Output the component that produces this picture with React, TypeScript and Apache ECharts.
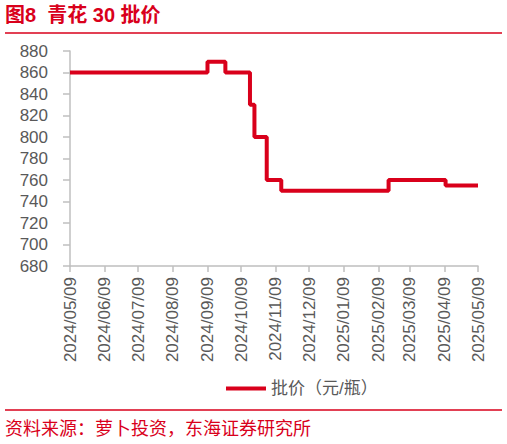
import { useEffect, useRef } from 'react';
import * as echarts from 'echarts';

// change points of the wholesale price (step line)
const changeDates = [
  '2024/05/09', '2024/09/09', '2024/09/25', '2024/10/17', '2024/10/21',
  '2024/11/01', '2024/11/14', '2025/02/18', '2025/04/10', '2025/05/09',
];
const prices = [860, 870, 860, 830, 800, 760, 750, 760, 755, 755];

const seriesName = '批价（元/瓶）';
const startDate = '2024/05/09';
const endDate = '2025/05/09';

const red = '#D9001B';
const grey = '#595959';
const font = '"Liberation Sans", Arial, "Noto Sans CJK SC", sans-serif';

// daily categories for the x axis
function dayList(from: string, to: string) {
  const out: string[] = [];
  const [fy, fm, fd] = from.split('/').map(Number);
  const [ty, tm, td] = to.split('/').map(Number);
  const d = new Date(Date.UTC(fy, fm - 1, fd));
  const end = Date.UTC(ty, tm - 1, td);
  while (d.getTime() <= end) {
    const m = String(d.getUTCMonth() + 1).padStart(2, '0');
    const day = String(d.getUTCDate()).padStart(2, '0');
    out.push(`${d.getUTCFullYear()}/${m}/${day}`);
    d.setUTCDate(d.getUTCDate() + 1);
  }
  return out;
}

function App() {
  const chartRef = useRef<HTMLDivElement>(null);

  useEffect(() => {
    document.body.style.margin = '0';
    if (!chartRef.current) return;
    const days = dayList(startDate, endDate);
    const onNinth = (_i: number, v: string) => v.endsWith('/09');

    const option: echarts.EChartsOption = {
      animation: false,
      textStyle: { fontFamily: font },
      grid: { left: 70, right: 29, top: 51, bottom: 178, containLabel: false },
      legend: {
        left: 221,
        top: 375,
        icon: 'rect',
        itemWidth: 40,
        itemHeight: 4,
        itemGap: 10,
        textStyle: { color: grey, fontSize: 17, fontFamily: font },
        data: [seriesName],
      },
      xAxis: {
        type: 'category',
        data: days,
        boundaryGap: false,
        axisLine: { lineStyle: { color: '#BFBFBF', width: 1.5 } },
        axisTick: { interval: onNinth, length: 6, lineStyle: { color: '#BFBFBF', width: 1.5 } },
        axisLabel: {
          interval: onNinth,
          rotate: 90,
          margin: 11,
          color: grey,
          fontSize: 17,
          fontFamily: font,
        },
        splitLine: { show: false },
      },
      yAxis: {
        type: 'value',
        min: 680,
        max: 880,
        interval: 20,
        axisLine: { show: true, lineStyle: { color: '#BFBFBF', width: 1.5 } },
        axisTick: { show: true, length: 7, lineStyle: { color: '#BFBFBF', width: 1.5 } },
        axisLabel: { color: grey, fontSize: 17, margin: 22, fontFamily: font },
        splitLine: { show: false },
      },
      series: [
        {
          name: seriesName,
          type: 'line',
          step: 'end',
          showSymbol: false,
          data: changeDates.map((d, i) => [d, prices[i]]),
          lineStyle: { color: red, width: 4 },
          itemStyle: { color: red },
        },
      ],
      graphic: [
        {
          type: 'text',
          left: 5,
          top: 5,
          style: {
            text: '图8  青花 30 批价',
            fill: red,
            fontSize: 20,
            fontWeight: 'bold',
            fontFamily: font,
          },
        },
        {
          type: 'line',
          shape: { x1: 5, y1: 33, x2: 502, y2: 33 },
          style: { stroke: red, lineWidth: 1.5 },
        },
        {
          type: 'line',
          shape: { x1: 5, y1: 410, x2: 502, y2: 410 },
          style: { stroke: red, lineWidth: 1.5 },
        },
        {
          type: 'text',
          left: 5,
          top: 420,
          style: {
            text: '资料来源：萝卜投资，东海证券研究所',
            fill: red,
            fontSize: 18,
            fontFamily: font,
          },
        },
      ],
    };

    const chart = echarts.init(chartRef.current, null, { renderer: 'svg' });
    chart.setOption(option);

    return () => {
      chart.dispose();
    };
  }, []);

  return <div ref={chartRef} style={{ width: '507px', height: '444px' }} />;
}

export default App;
